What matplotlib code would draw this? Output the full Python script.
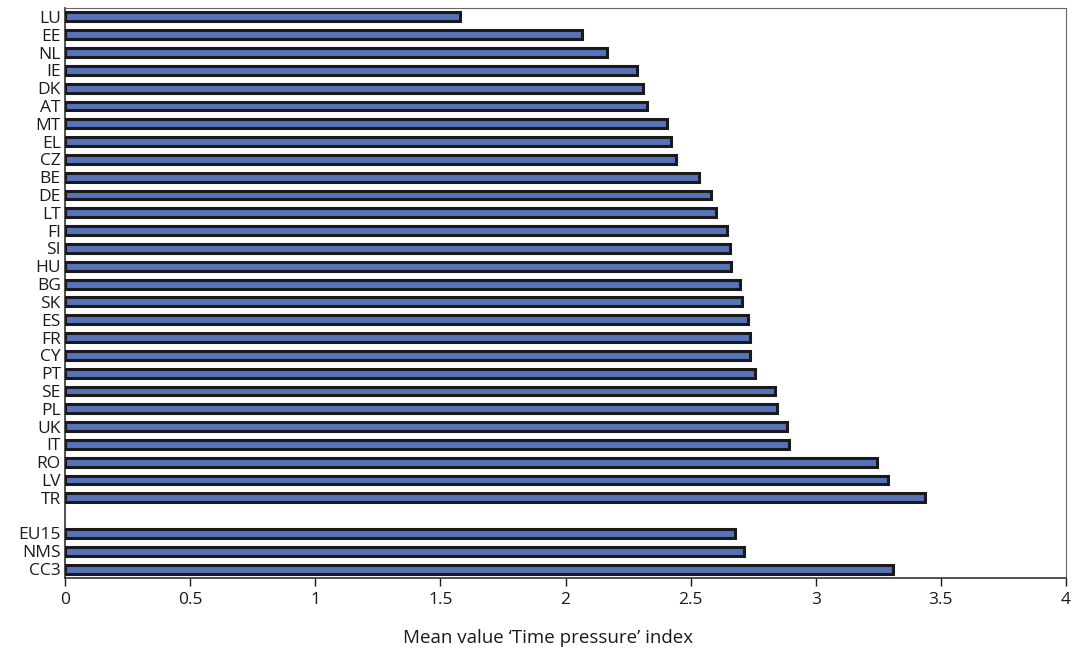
import matplotlib
matplotlib.use("Agg")
import matplotlib.pyplot as plt
import numpy as np

countries = ["LU", "EE", "NL", "IE", "DK", "AT", "MT", "EL", "CZ", "BE", "DE", "LT", "FI", "SI", "HU",
             "BG", "SK", "ES", "FR", "CY", "PT", "SE", "PL", "UK", "IT", "RO", "LV", "TR"]
country_values = [1.58, 2.065, 2.165, 2.287, 2.311, 2.324, 2.406, 2.421, 2.442, 2.535, 2.58, 2.601, 2.644, 2.657, 2.66,
                  2.698, 2.706, 2.728, 2.736, 2.736, 2.758, 2.838, 2.846, 2.887, 2.895, 3.243, 3.287, 3.435]
groups = ["EU15", "NMS", "CC3"]
group_values = [2.679, 2.714, 3.309]
x_ticks = [0, 0.5, 1, 1.5, 2, 2.5, 3, 3.5, 4]
x_label = "Mean value \u2018Time pressure\u2019 index"

plt.rcParams['font.family'] = ['Open Sans', 'DejaVu Sans']

fig = plt.figure(figsize=(10.75, 6.5), dpi=100)
ax = fig.add_axes([65/1075, 1 - 578/650, (1066-65)/1075, (578-8)/650])

labels = countries + [""] + groups
values = country_values + [np.nan] + group_values
pos = np.arange(len(labels))
mask = ~np.isnan(values)

ax.barh(pos[mask], np.array(values)[mask], height=0.5, color="#5673B9",
        edgecolor="#1a1a1a", linewidth=2.2, zorder=3)

ax.set_ylim(len(labels) - 0.5, -0.5)
ax.set_yticks(pos[mask])
ax.set_yticklabels(np.array(labels)[mask])
ax.set_xlim(0, 4)
ax.set_xticks(x_ticks)
ax.set_xticklabels([f"{t:g}" for t in x_ticks])
ax.tick_params(axis="y", length=0, pad=3, labelsize=12.5, colors="#1a1a1a")
ax.tick_params(axis="x", length=6, width=1, direction="out", pad=4, labelsize=12.5, colors="#1a1a1a")
for s in ["left", "bottom"]:
    ax.spines[s].set_color("#333333")
    ax.spines[s].set_linewidth(1.2)
for s in ["top", "right"]:
    ax.spines[s].set_color("#666666")
    ax.spines[s].set_linewidth(0.8)
fig.text(548 / 1075, 1 - 638/650, x_label, fontsize=13.5, ha="center", va="center", color="#1a1a1a")

fig.savefig("out.png", dpi=100)
